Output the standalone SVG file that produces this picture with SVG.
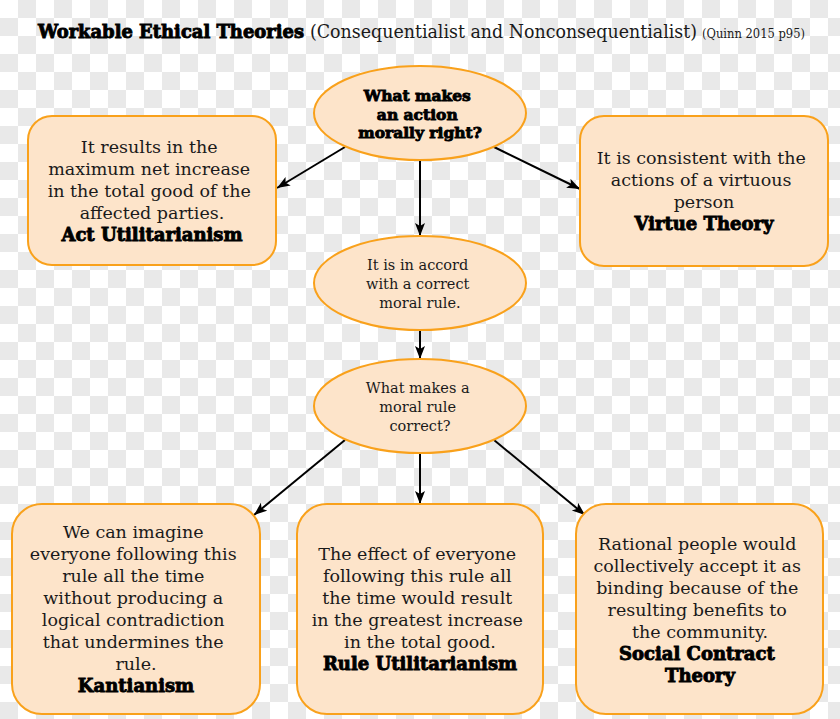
<svg xmlns="http://www.w3.org/2000/svg" width="840" height="719" viewBox="0 0 840 719">
<defs>
<pattern id="checker" patternUnits="userSpaceOnUse" width="36" height="36">
<rect width="36" height="36" fill="#ffffff"/>
<rect x="18" y="0" width="18" height="18" fill="#e9e9e9"/>
<rect x="0" y="18" width="18" height="18" fill="#e9e9e9"/>
</pattern>
<marker id="arrow" markerUnits="userSpaceOnUse" markerWidth="14" markerHeight="12" refX="13" refY="5" orient="auto">
<path d="M0,0 L13,5 L0,10 L3,5 Z" fill="#000"/>
</marker>
<style>
.shape{fill:#fde4ca;stroke:#f9a11b;stroke-width:2}
.body{font-family:"Roboto Slab","DejaVu Serif",serif;fill:#1a1a1a;text-anchor:middle}
.heavy{font-family:"DejaVu Serif",serif;font-weight:bold;fill:#000;stroke:#000;stroke-width:0.9;text-anchor:middle}
.conn{stroke:#000;stroke-width:2;fill:none;marker-end:url(#arrow)}
</style>
</defs>
<rect width="840" height="719" fill="url(#checker)"/>

<g id="title">
<text x="38" y="38" font-family="DejaVu Serif, serif" font-weight="bold" font-size="18" stroke="#000" stroke-width="0.9" textLength="266" lengthAdjust="spacingAndGlyphs">Workable Ethical Theories</text>
<text x="310" y="38" font-family="Roboto Slab, DejaVu Serif, serif" font-size="18" fill="#1a1a1a" textLength="387" lengthAdjust="spacingAndGlyphs">(Consequentialist and Nonconsequentialist)</text>
<text x="702" y="38" font-family="Roboto Slab, DejaVu Serif, serif" font-size="13" fill="#1a1a1a" textLength="103" lengthAdjust="spacingAndGlyphs">(Quinn 2015 p95)</text>
</g>

<g id="connectors">
<line class="conn" x1="345" y1="147" x2="277" y2="188"/>
<line class="conn" x1="420" y1="160" x2="420" y2="236"/>
<line class="conn" x1="494" y1="147" x2="580" y2="189"/>
<line class="conn" x1="420" y1="330" x2="420" y2="359"/>
<line class="conn" x1="345" y1="440" x2="254" y2="515"/>
<line class="conn" x1="420" y1="453" x2="420" y2="504"/>
<line class="conn" x1="494" y1="440" x2="585" y2="515"/>
</g>

<g id="q1">
<ellipse class="shape" cx="420" cy="113" rx="106" ry="47"/>
<text class="heavy" font-size="15.5">
<tspan x="420" y="101">What makes</tspan>
<tspan x="420" y="120">an action</tspan>
<tspan x="420" y="138">morally right?</tspan>
</text>
</g>

<g id="act">
<rect class="shape" x="28" y="116" width="248" height="149" rx="24"/>
<text class="body" font-size="17.5">
<tspan x="152" y="153">It results in the</tspan>
<tspan x="152" y="175">maximum net increase</tspan>
<tspan x="152" y="197">in the total good of the</tspan>
<tspan x="152" y="219">affected parties.</tspan>
</text>
<text class="heavy" x="152" y="241" font-size="18">Act Utilitarianism</text>
</g>

<g id="virtue">
<rect class="shape" x="580" y="116" width="248" height="150" rx="24"/>
<text class="body" font-size="17.5">
<tspan x="704" y="164">It is consistent with the</tspan>
<tspan x="704" y="186">actions of a virtuous</tspan>
<tspan x="704" y="208">person</tspan>
</text>
<text class="heavy" x="704" y="230" font-size="18">Virtue Theory</text>
</g>

<g id="rule">
<ellipse class="shape" cx="420" cy="283" rx="106" ry="47"/>
<text class="body" font-size="14.5">
<tspan x="420" y="270">It is in accord</tspan>
<tspan x="420" y="289">with a correct</tspan>
<tspan x="420" y="308">moral rule.</tspan>
</text>
</g>

<g id="q2">
<ellipse class="shape" cx="420" cy="406" rx="106" ry="47"/>
<text class="body" font-size="14.5">
<tspan x="420" y="393">What makes a</tspan>
<tspan x="420" y="412">moral rule</tspan>
<tspan x="420" y="431">correct?</tspan>
</text>
</g>

<g id="kant">
<rect class="shape" x="12" y="504" width="248" height="210" rx="30"/>
<text class="body" font-size="17.5">
<tspan x="136" y="538">We can imagine</tspan>
<tspan x="136" y="560">everyone following this</tspan>
<tspan x="136" y="582">rule all the time</tspan>
<tspan x="136" y="604">without producing a</tspan>
<tspan x="136" y="626">logical contradiction</tspan>
<tspan x="136" y="648">that undermines the</tspan>
<tspan x="136" y="670">rule.</tspan>
</text>
<text class="heavy" x="136" y="692" font-size="18">Kantianism</text>
</g>

<g id="ruleutil">
<rect class="shape" x="297" y="504" width="246" height="210" rx="30"/>
<text class="body" font-size="17.5">
<tspan x="420" y="560">The effect of everyone</tspan>
<tspan x="420" y="582">following this rule all</tspan>
<tspan x="420" y="604">the time would result</tspan>
<tspan x="420" y="626">in the greatest increase</tspan>
<tspan x="420" y="648">in the total good.</tspan>
</text>
<text class="heavy" x="420" y="670" font-size="18">Rule Utilitarianism</text>
</g>

<g id="social">
<rect class="shape" x="576" y="504" width="247" height="210" rx="30"/>
<text class="body" font-size="17.5">
<tspan x="700" y="550">Rational people would</tspan>
<tspan x="700" y="572">collectively accept it as</tspan>
<tspan x="700" y="594">binding because of the</tspan>
<tspan x="700" y="616">resulting benefits to</tspan>
<tspan x="700" y="638">the community.</tspan>
</text>
<text class="heavy" font-size="18">
<tspan x="700" y="660">Social Contract</tspan>
<tspan x="700" y="682">Theory</tspan>
</text>
</g>
</svg>
